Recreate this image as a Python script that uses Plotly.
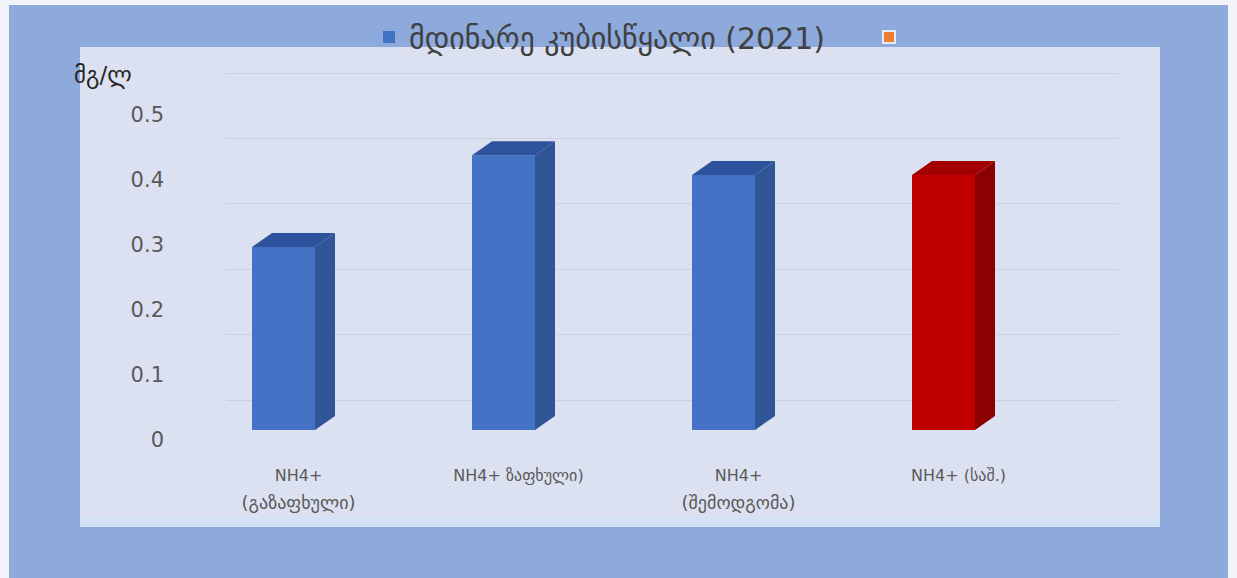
import plotly.graph_objects as go

# Ammonium (NH4+) concentration, mg/l, by season and average
label_first = ["NH4+", "NH4+ ზაფხული)", "NH4+", "NH4+ (საშ.)"]
label_second = ["(გაზაფხული)", "", "(შემოდგომა)", ""]
values = [0.28, 0.42, 0.39, 0.39]
front_colors = ["#4472C4", "#4472C4", "#4472C4", "#C00000"]
side_colors = ["#2F5597", "#2F5597", "#2F5597", "#8B0000"]
top_colors = ["#2E539C", "#2E539C", "#2E539C", "#A30000"]
series_name = "მდინარე კუბისწყალი (2021)"
y_ticks = [0, 0.1, 0.2, 0.3, 0.4, 0.5]
unit_label = "მგ/ლ"

W, H = 1237, 578
GEO_FONT = "DejaVu Sans"

def fy(px):
    return 1 - px / H

def fx(px):
    return px / W

# pixel geometry of the main plotting area
x_left, x_right = 80, 1160
first_center, spacing = 283.5, 220.0
y_base, y_top, px_per_unit = 430, 47, 654.0

x_range = [-(first_center - x_left) / spacing, (x_right - first_center) / spacing]
y_range = [0, (y_base - y_top) / px_per_unit]

bar_w = 63 / spacing
depth_dx = 20 / spacing
depth_dy = 14 / px_per_unit

# back wall: 0 at 400 px, 0.5 at 73 px, padded so the edge lines are drawn
wall_pad = 0.02
wall_scale = (400 - 73) / 0.5

fig = go.Figure()

# back wall gridlines live on the first subplot so they sit behind the bars
fig.add_trace(go.Scatter(x=[None], y=[None], xaxis="x", yaxis="y",
                         showlegend=False, hoverinfo="skip"))

positions = list(range(len(values)))
label_pos = [p + depth_dx * 0.75 for p in positions]

# front faces
fig.add_trace(go.Bar(
    x=positions, y=values, width=bar_w,
    marker=dict(color=front_colors, line=dict(width=0)),
    name=series_name, showlegend=True, hoverinfo="skip",
    xaxis="x2", yaxis="y2",
))

# side and top faces give each bar its depth
for i, v in enumerate(values):
    xr = i + bar_w / 2
    xl = i - bar_w / 2
    fig.add_trace(go.Scatter(
        x=[xr, xr + depth_dx, xr + depth_dx, xr, xr],
        y=[0, depth_dy, v + depth_dy, v, 0],
        fill="toself", fillcolor=side_colors[i], mode="lines",
        line=dict(width=0, color=side_colors[i]),
        showlegend=False, hoverinfo="skip", xaxis="x2", yaxis="y2",
    ))
    fig.add_trace(go.Scatter(
        x=[xl, xl + depth_dx, xr + depth_dx, xr, xl],
        y=[v, v + depth_dy, v + depth_dy, v, v],
        fill="toself", fillcolor=top_colors[i], mode="lines",
        line=dict(width=0, color=top_colors[i]),
        showlegend=False, hoverinfo="skip", xaxis="x2", yaxis="y2",
    ))

# second, unnamed legend entry
fig.add_trace(go.Bar(
    x=[None], y=[None], name=" ", marker=dict(color="#ED7D31"),
    showlegend=True, hoverinfo="skip", xaxis="x2", yaxis="y2",
))

# carriers for the label axes
fig.add_trace(go.Scatter(x=[None], y=[None], xaxis="x2", yaxis="y3",
                         showlegend=False, hoverinfo="skip"))
fig.add_trace(go.Scatter(x=[None], y=[None], xaxis="x3", yaxis="y2",
                         showlegend=False, hoverinfo="skip"))

fig.update_layout(
    width=W, height=H,
    margin=dict(l=0, r=0, t=0, b=0, pad=0, autoexpand=False),
    paper_bgcolor="#F2F4FA",
    plot_bgcolor="rgba(0,0,0,0)",
    barmode="overlay",
    # back wall gridlines
    xaxis=dict(domain=[fx(226), fx(1118)], range=[0, 1], visible=False, anchor="y"),
    yaxis=dict(
        domain=[fy(400 + wall_pad * wall_scale), fy(73 - wall_pad * wall_scale)],
        range=[-wall_pad, 0.5 + wall_pad],
        tickmode="array", tickvals=y_ticks,
        showgrid=True, gridcolor="#CBD1E2", gridwidth=1,
        zeroline=False, showline=False, showticklabels=False, ticks="",
        anchor="x",
    ),
    # bars and first line of the category labels
    xaxis2=dict(
        domain=[fx(x_left), fx(x_right)], range=x_range,
        tickmode="array", tickvals=label_pos, ticktext=label_first,
        showgrid=False, zeroline=False, showline=False, ticks="",
        ticklabelstandoff=34,
        tickfont=dict(family=GEO_FONT, size=16, color="#595959"),
        anchor="y2",
    ),
    # second line of the category labels
    xaxis3=dict(
        overlaying="x2", range=x_range, anchor="y2", side="bottom",
        tickmode="array", tickvals=label_pos, ticktext=label_second,
        showgrid=False, zeroline=False, showline=False, ticks="",
        ticklabelstandoff=60,
        tickfont=dict(family=GEO_FONT, size=18, color="#595959"),
    ),
    yaxis2=dict(
        domain=[fy(y_base), fy(y_top)], range=y_range,
        showgrid=False, zeroline=False, showline=False,
        showticklabels=False, ticks="", anchor="x2",
    ),
    # value labels
    yaxis3=dict(
        domain=[fy(440), fy(115)], range=[0, 0.5],
        tickmode="array", tickvals=y_ticks,
        ticktext=[f"{t:g}" for t in y_ticks],
        anchor="free", position=fx(164), side="left",
        showgrid=False, zeroline=False, showline=False, ticks="",
        tickfont=dict(family="DejaVu Sans", size=21, color="#595959"),
    ),
    legend=dict(
        orientation="h", x=fx(369), xanchor="left", y=fy(37), yanchor="middle",
        bgcolor="rgba(0,0,0,0)",
        entrywidthmode="pixels", entrywidth=455,
        font=dict(family=GEO_FONT, size=30, color="#404040"),
        itemsizing="constant",
    ),
    shapes=[
        dict(type="rect", xref="paper", yref="paper",
             x0=fx(9), x1=fx(1228), y0=0, y1=fy(5),
             fillcolor="#8EA9DB", line=dict(width=0), layer="below"),
        dict(type="rect", xref="paper", yref="paper",
             x0=fx(80), x1=fx(1160), y0=fy(527), y1=fy(47),
             fillcolor="#DCE1F1", line=dict(width=0), layer="below"),
        dict(type="rect", xref="paper", yref="paper",
             x0=fx(80), x1=fx(1160), y0=fy(527), y1=fy(517),
             fillcolor="#D3E2F4", line=dict(width=0), layer="below"),
    ],
    annotations=[
        dict(text=unit_label, xref="paper", yref="paper",
             x=fx(72), y=fy(75), xanchor="left", yanchor="middle",
             showarrow=False,
             font=dict(family=GEO_FONT, size=23, color="#262626")),
    ],
)

fig.write_html("out.html")
